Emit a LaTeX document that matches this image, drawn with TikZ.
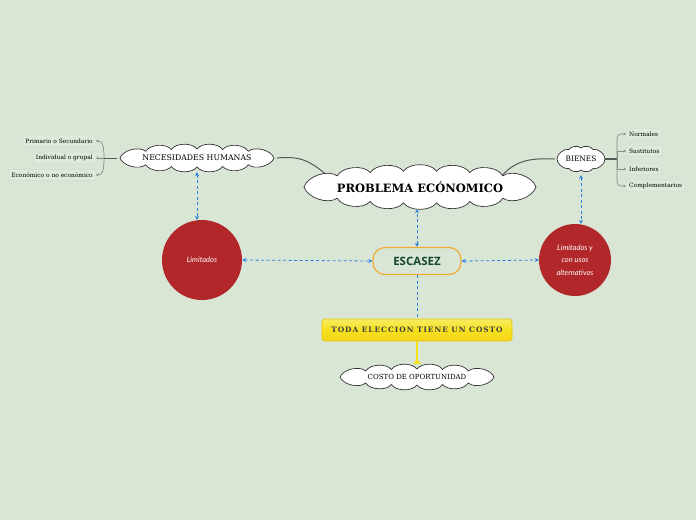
\documentclass[tikz,border=0pt]{standalone}
\usepackage{fontspec}
\setmainfont{DejaVu Serif}
\newfontfamily\sansf{Open Sans}
\newfontfamily\handf{Lato}
\usetikzlibrary{shapes.geometric,arrows.meta,calc}
\definecolor{bg}{RGB}{217,230,214}
\definecolor{itemfill}{RGB}{222,234,219}
\definecolor{itemdraw}{RGB}{205,221,202}
\definecolor{dash}{RGB}{40,130,220}
\definecolor{redc}{RGB}{178,40,42}
\definecolor{orangec}{RGB}{240,170,50}
\definecolor{darkg}{RGB}{20,70,50}
\definecolor{yel}{RGB}{245,225,30}
\definecolor{yeld}{RGB}{225,200,20}
\definecolor{linec}{RGB}{85,90,85}
\def\cn{6}
\tikzset{
  declare function={cacs(\i)=acos(max(-1,min(1,1-2*min(\i,2*\cn-\i)/\cn)));
    cang(\i)=(\i<=\cn)*cacs(\i)+(\i>\cn)*(360-cacs(\i));},
  cloudline/.style={draw=black!80, fill=white, line width=0.7pt},
  cloudnode/.style={ellipse, inner sep=0pt},
  item/.style={draw=itemdraw, fill=itemfill, rounded corners=1.5pt, font=\fontsize{5.9}{7}\selectfont, inner xsep=3pt, inner ysep=3pt},
  dasharrow/.style={draw=dash, dash pattern=on 3pt off 2.5pt, line width=0.8pt, {Stealth[length=4pt,width=4pt]}-{Stealth[length=4pt,width=4pt]}},
  dashline/.style={draw=dash, dash pattern=on 3pt off 2.5pt, line width=0.8pt},
  mainline/.style={draw=linec, line width=1pt},
  itemline/.style={draw=linec!70, line width=0.7pt, -{Stealth[length=2.5pt,width=2.5pt]}},
  redcirc/.style={circle, fill=redc, text=white, font=\handf\itshape\fontsize{7.5}{12.5}\selectfont, align=center, inner sep=0pt}
}
% #1,#2 centre  #3,#4 radii  #5 puffs per half
\newcommand\cloudat[5]{%
 \def\cn{#5}%
 \pgfmathtruncatemacro\cm{2*#5}%
 \draw[cloudline] ({#1+#3},{#2}) \foreach \i [evaluate=\i as \pa using cang(\i-1), evaluate=\i as \pb using cang(\i)] in {1,...,\cm}{
   .. controls ($({#1+#3*cos(\pa)},{#2+#4*sin(\pa)})!0.32!55:({#1+#3*cos(\pb)},{#2+#4*sin(\pb)})$)
   and ($({#1+#3*cos(\pb)},{#2+#4*sin(\pb)})!0.32!-55:({#1+#3*cos(\pa)},{#2+#4*sin(\pa)})$)
   .. ({#1+#3*cos(\pb)},{#2+#4*sin(\pb)})} -- cycle;}
\begin{document}
\begin{tikzpicture}[x=1pt,y=-1pt]
\fill[bg] (0,0) rectangle (696,520);
\useasboundingbox (0,0) rectangle (696,520);

% anchor nodes (invisible) for clouds
\node[cloudnode, minimum width=240pt, minimum height=44pt] (prob) at (420,187) {};
\node[cloudnode, minimum width=160pt, minimum height=28pt] (nec) at (197,158) {};
\node[cloudnode, minimum width=52pt, minimum height=32pt] (bien) at (581,159) {};
\node[cloudnode, minimum width=160pt, minimum height=26pt] (costo) at (417,377) {};

% main connectors (behind clouds)
\draw[mainline] (nec.east) .. controls (300,156) and (310,160) .. (330,178);
\draw[mainline] (bien.west) .. controls (530,158) and (515,160) .. (500,178);
\coordinate (rj) at (617,159);
\draw[mainline, line width=1.3pt] (bien.center) -- (rj);

% clouds
\cloudat{420}{187}{116}{16}{7}
\cloudat{197}{158}{77}{9}{6}
\cloudat{581}{159}{24}{11}{4}
\cloudat{417}{377}{77}{8}{6}
\node[font=\bfseries\fontsize{11.5}{13}\selectfont] at (prob) {PROBLEMA ECÓNOMICO};
\node[font=\fontsize{7.8}{9}\selectfont] at (nec) {NECESIDADES HUMANAS};
\node[font=\fontsize{7.4}{9}\selectfont] at (bien) {BIENES};
\node[font=\fontsize{7}{9}\selectfont] at (costo) {COSTO DE OPORTUNIDAD};

% circles
\node[redcirc, minimum size=80pt] (lim) at (202,260) {Limitados};
\node[redcirc, minimum size=72pt] (lima) at (575,260) {Limitados y\\con usos\\alternativos};

% escasez
\node[draw=orangec, line width=1.2pt, rounded corners=12pt, fill=bg, minimum width=88pt, minimum height=27pt, text=darkg, font=\sansf\bfseries\fontsize{11.5}{13}\selectfont] (esc) at (417,261) {ESCASEZ};

% toda eleccion
\node[draw=yeld, line width=0.8pt, rounded corners=3pt, top color=yel!70!white, bottom color=yel!85!orange, middle color=yel, minimum width=190pt, minimum height=22pt, font=\bfseries\fontsize{7.4}{9}\selectfont\addfontfeatures{LetterSpace=13}, text=black!75] (toda) at (417,330) {TODA ELECCION TIENE UN COSTO};

% items left
\node[item, anchor=east] (i1) at (96,141) {Primario o Secundario};
\node[item, anchor=east] (i2) at (96,158) {Individual o grupal};
\node[item, anchor=east] (i3) at (96,175) {Económico o no económico};
% items right
\node[item, anchor=west] (r1) at (626,134) {Normales};
\node[item, anchor=west] (r2) at (626,151) {Sustitutos};
\node[item, anchor=west] (r3) at (626,169) {Inferiores};
\node[item, anchor=west] (r4) at (626,186) {Complementarios};

% left bracket
\coordinate (lj) at (104,158);
\draw[mainline] (nec.west) -- (lj);
\draw[itemline] (lj) -- (i2.east);
\draw[itemline] (lj) .. controls (104,146) and (103,141) .. (i1.east);
\draw[itemline] (lj) .. controls (104,170) and (103,175) .. (i3.east);

% right bracket
\draw[itemline, rounded corners=4pt] (rj) |- (r1.west);
\draw[itemline] (rj) |- (r2.west);
\draw[itemline] (rj) |- (r3.west);
\draw[itemline, rounded corners=4pt] (rj) |- (r4.west);

% dashed arrows
\draw[dasharrow] (nec.south) -- (nec.south |- lim.north);
\draw[dasharrow] (lim.east) -- (esc.west);
\draw[dasharrow] (esc.north) -- (esc.north |- prob.south);
\draw[dasharrow] (esc.east) -- (lima.west);
\draw[dasharrow] (bien.south) -- (bien.south |- lima.north);
\draw[dashline] (esc.south) -- (toda.north);

% yellow connector
\draw[draw=yel, line width=1.5pt, -{Triangle[reversed,length=5pt,width=7pt]}] (toda.south) -- (costo.north);
\end{tikzpicture}
\end{document}
